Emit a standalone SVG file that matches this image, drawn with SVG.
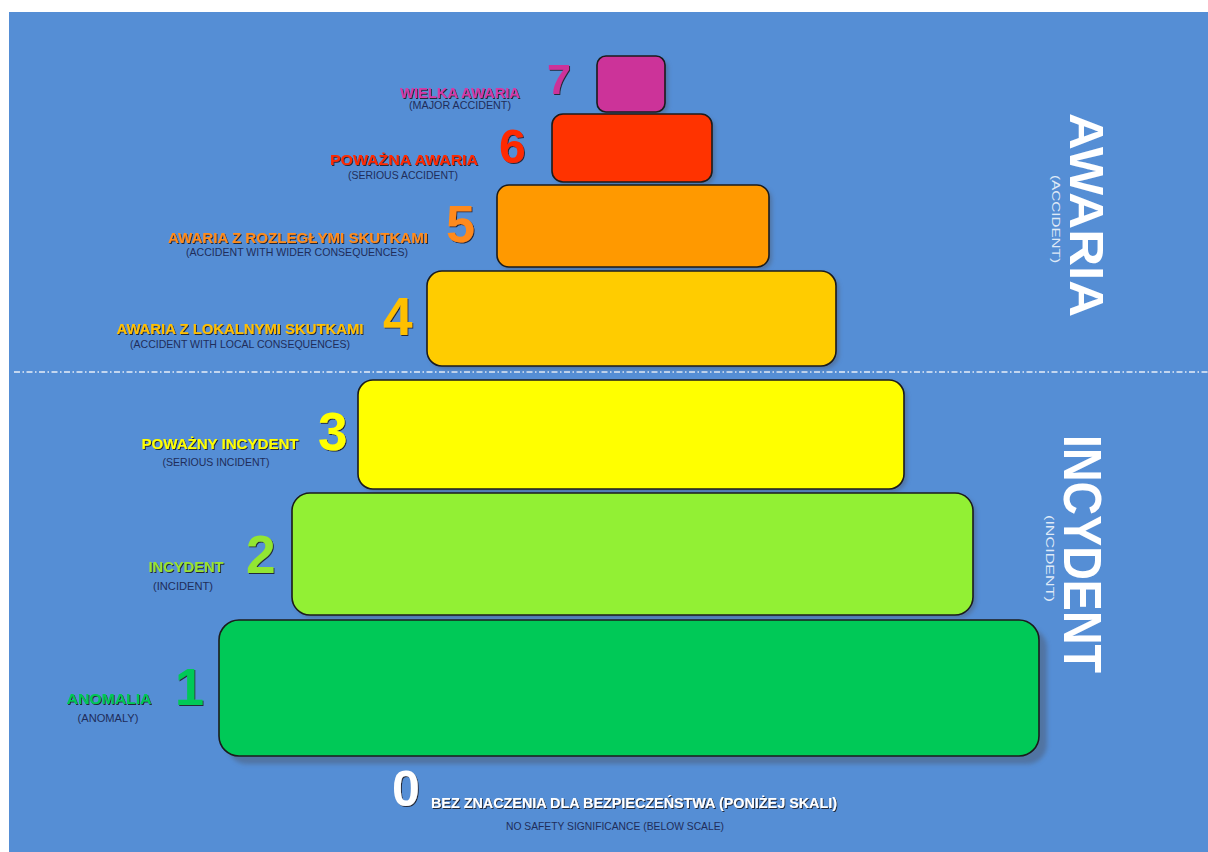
<svg xmlns="http://www.w3.org/2000/svg" width="1208" height="852" viewBox="0 0 1208 852">
<defs>
<filter id="ts" x="-10%" y="-30%" width="120%" height="160%">
<feDropShadow dx="1" dy="1" stdDeviation="0.4" flood-color="#1a1a2a" flood-opacity="0.9"/>
</filter>
<filter id="bs" x="-5%" y="-5%" width="115%" height="120%">
<feGaussianBlur stdDeviation="2"/>
</filter>
<style>
.box{stroke:#1b1b1b;stroke-width:1.6}
.shadow{fill:#4d5f7a;opacity:0.55}
.num{font-family:"Liberation Sans",Arial,sans-serif;font-weight:bold;filter:url(#ts)}
.lab{font-family:"Liberation Sans",Arial,sans-serif;font-weight:bold;font-size:15px;text-anchor:middle;filter:url(#ts)}
.sub{font-family:"Liberation Sans",Arial,sans-serif;font-size:10.5px;fill:#1f2d5a;text-anchor:middle}
.big{font-family:"Liberation Sans",Arial,sans-serif;font-weight:bold;fill:#ffffff}
.small{font-family:"Liberation Sans",Arial,sans-serif;fill:#dfe9f7}
</style>
</defs>
<rect x="9" y="12" width="1199" height="840" fill="#558ed5"/>

<g id="connectors">
<line x1="14" y1="372" x2="1208" y2="372" stroke="#e8eef8" stroke-width="1.6" stroke-dasharray="6 2.5 1.5 2.5"/>
</g>

<g id="level7">
<rect class="shadow" x="600" y="59" width="68" height="56" rx="9" filter="url(#bs)"/>
<rect class="box" x="597" y="56" width="68" height="56" rx="9" fill="#cc3399"/>
<text class="num" x="547" y="94" font-size="43" fill="#cc3399">7</text>
<text class="lab" x="460" y="98" font-size="14" fill="#d43aa5" textLength="120" lengthAdjust="spacingAndGlyphs">WIELKA AWARIA</text>
<text class="sub" x="460" y="109" textLength="102" lengthAdjust="spacingAndGlyphs">(MAJOR ACCIDENT)</text>
</g>

<g id="level6">
<rect class="shadow" x="555" y="117" width="160" height="68" rx="11" filter="url(#bs)"/>
<rect class="box" x="552" y="114" width="160" height="68" rx="11" fill="#ff3300"/>
<text class="num" x="499" y="163" font-size="48" fill="#ff2a00">6</text>
<text class="lab" x="404" y="165" font-size="14" fill="#ff2a00" textLength="148" lengthAdjust="spacingAndGlyphs">POWAŻNA AWARIA</text>
<text class="sub" x="403" y="179" textLength="110" lengthAdjust="spacingAndGlyphs">(SERIOUS ACCIDENT)</text>
</g>

<g id="level5">
<rect class="shadow" x="500" y="188" width="272" height="82" rx="12" filter="url(#bs)"/>
<rect class="box" x="497" y="185" width="272" height="82" rx="12" fill="#ff9900"/>
<text class="num" x="446" y="242" font-size="52" fill="#ff8a1c">5</text>
<text class="lab" x="298" y="243" fill="#ff8c1a" textLength="260" lengthAdjust="spacingAndGlyphs">AWARIA Z ROZLEGŁYMI  SKUTKAMI</text>
<text class="sub" x="297" y="256" textLength="222" lengthAdjust="spacingAndGlyphs">(ACCIDENT WITH WIDER CONSEQUENCES)</text>
</g>

<g id="level4">
<rect class="shadow" x="430" y="274" width="409" height="95" rx="15" filter="url(#bs)"/>
<rect class="box" x="427" y="271" width="409" height="95" rx="15" fill="#ffcc00"/>
<text class="num" x="383" y="335" font-size="53" fill="#ffc000">4</text>
<text class="lab" x="240" y="334" fill="#ffc000" textLength="247" lengthAdjust="spacingAndGlyphs">AWARIA Z LOKALNYMI SKUTKAMI</text>
<text class="sub" x="240" y="348" textLength="220" lengthAdjust="spacingAndGlyphs">(ACCIDENT WITH LOCAL CONSEQUENCES)</text>
</g>

<g id="level3">
<rect class="shadow" x="361" y="383" width="546" height="109" rx="15" filter="url(#bs)"/>
<rect class="box" x="358" y="380" width="546" height="109" rx="15" fill="#ffff00"/>
<text class="num" x="318" y="450" font-size="53" fill="#ffff00">3</text>
<text class="lab" x="220" y="449" fill="#ffff00" textLength="157" lengthAdjust="spacingAndGlyphs">POWAŻNY INCYDENT</text>
<text class="sub" x="216" y="466" textLength="107" lengthAdjust="spacingAndGlyphs">(SERIOUS INCIDENT)</text>
</g>

<g id="level2">
<rect class="shadow" x="295" y="496" width="681" height="122" rx="18" filter="url(#bs)"/>
<rect class="box" x="292" y="493" width="681" height="122" rx="18" fill="#92f034"/>
<text class="num" x="246" y="573" font-size="53" fill="#92e630">2</text>
<text class="lab" x="186" y="572" fill="#99e233" textLength="75" lengthAdjust="spacingAndGlyphs">INCYDENT</text>
<text class="sub" x="183" y="590" textLength="60" lengthAdjust="spacingAndGlyphs">(INCIDENT)</text>
</g>

<g id="level1">
<rect class="shadow" x="227" y="628" width="820" height="136" rx="20" filter="url(#bs)"/>
<rect class="box" x="219" y="620" width="820" height="136" rx="20" fill="#00c957"/>
<text class="num" x="175" y="705" font-size="52" fill="#00c957">1</text>
<text class="lab" x="109" y="704" fill="#00c957" textLength="85" lengthAdjust="spacingAndGlyphs">ANOMALIA</text>
<text class="sub" x="108" y="722" textLength="61" lengthAdjust="spacingAndGlyphs">(ANOMALY)</text>
</g>

<g id="level0">
<text class="num" x="392" y="806" font-size="50" fill="#ffffff">0</text>
<text class="lab" x="634" y="808" fill="#ffffff" textLength="406" lengthAdjust="spacingAndGlyphs">BEZ ZNACZENIA DLA  BEZPIECZEŃSTWA (PONIŻEJ SKALI)</text>
<text class="sub" x="615" y="830" textLength="218" lengthAdjust="spacingAndGlyphs">NO SAFETY SIGNIFICANCE (BELOW SCALE)</text>
</g>

<g id="awaria">
<text class="big" transform="translate(1070,113) rotate(90)" x="0" y="0" font-size="49" textLength="204" lengthAdjust="spacingAndGlyphs">AWARIA</text>
<text class="small" transform="translate(1052,175) rotate(90)" x="0" y="0" font-size="11" textLength="88" lengthAdjust="spacingAndGlyphs">(ACCIDENT)</text>
</g>

<g id="incydent">
<text class="big" transform="translate(1064,435) rotate(90)" x="0" y="0" font-size="53" textLength="238" lengthAdjust="spacingAndGlyphs">INCYDENT</text>
<text class="small" transform="translate(1046,515) rotate(90)" x="0" y="0" font-size="11" textLength="87" lengthAdjust="spacingAndGlyphs">(INCIDENT)</text>
</g>
</svg>
